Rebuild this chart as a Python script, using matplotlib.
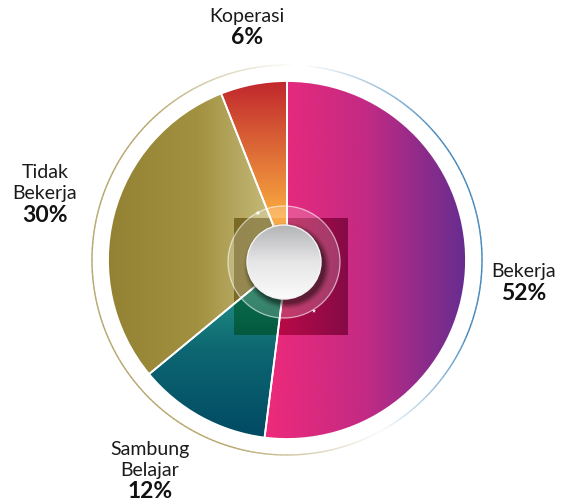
import numpy as np
import matplotlib.pyplot as plt
from matplotlib.patches import Circle
from matplotlib.collections import LineCollection
from matplotlib.colors import LinearSegmentedColormap, to_rgb

# slice data (clockwise from 12 o'clock)
labels = ['Bekerja', 'Sambung\nBelajar', 'Tidak\nBekerja', 'Koperasi']
values = [52, 12, 30, 6]

# gradient for each slice: direction + colour stops (left->right or bottom->top)
grads = [
    ('h', [(0, '#ee2a7b'), (0.5, '#c32a84'), (1, '#652d90')]),
    ('v', [(0, '#014a63'), (0.5, '#0d6772'), (1, '#2ca48d')]),
    ('h', [(0, '#938233'), (0.5, '#a19140'), (1, '#cec386')]),
    ('v', [(0, '#fbb040'), (0.25, '#f9a83f'), (0.6, '#de6d37'), (1, '#c1272d')]),
]
# darker tint of each slice inside the centre square
square_grads = [
    ('h', [(0, '#d6083f'), (0.5, '#b00a48'), (1, '#850a46')]),
    ('v', [(0, '#045a3e'), (0.5, '#0c7252'), (1, '#1c9670')]),
    ('h', [(0, '#7a6a24'), (0.5, '#7d6d27'), (1, '#85752e')]),
    ('v', [(0, '#f7941e'), (1, '#f7941e')]),
]

# position of the percentage line for each label (x, y from top), pixels
label_pos = [(524, 293), (150, 492), (45, 215), (247, 38)]

W, H = 571, 504
cx, cy = 287, H - 260
R = 179


def grad_image(d, cols, extent, clip, z):
    cmap = LinearSegmentedColormap.from_list('g', cols)
    g = np.linspace(0, 1, 256)
    arr = g[None, :] if d == 'h' else g[:, None]
    im = ax.imshow(arr, cmap=cmap, extent=extent, origin='lower', aspect='auto',
                   interpolation='bicubic', zorder=z)
    im.set_clip_path(clip)
    return im


fig = plt.figure(figsize=(W / 100, H / 100), dpi=100)
ax = fig.add_axes([0, 0, 1, 1])

wedges, _ = ax.pie(values, startangle=90, counterclock=False, center=(cx, cy), radius=R,
                   wedgeprops=dict(facecolor='none', edgecolor='white', linewidth=1.3, zorder=3))
ax.set_xlim(0, W)
ax.set_ylim(0, H)
ax.set_aspect('auto')
ax.axis('off')

# fill each wedge with a gradient, then the darker square patch in the centre
sq_ext = (234, 348, H - 335, H - 218)
for w, (d, cols), (d2, cols2) in zip(wedges, grads, square_grads):
    bb = w.get_path().get_extents()
    grad_image(d, cols, (bb.x0, bb.x1, bb.y0, bb.y1), w, 2)
    grad_image(d2, cols2, sq_ext, w, 2.5)

# thin outer ring, gold on the left, blue on the right, fading to white
t = np.linspace(0, 360, 1441)
tt = np.radians(t)
pts = np.column_stack([cx + 195 * np.cos(tt), cy + 195 * np.sin(tt)])
segs = np.stack([pts[:-1], pts[1:]], axis=1)
tm = (t[:-1] + t[1:]) / 2
gold = np.clip(np.minimum((tm - 88) / 45, (300 - tm) / 45), 0, 1)
tb = np.where(tm > 180, tm - 360, tm)
blue = np.clip(np.minimum((tb + 62) / 40, (85 - tb) / 45), 0, 1)
white = np.array([1, 1, 1.0])
c_gold = np.array(to_rgb('#a8954f'))
c_blue = np.array(to_rgb('#1c6fae'))
cols = white + gold[:, None] * (c_gold - white) + blue[:, None] * (c_blue - white)
ax.add_collection(LineCollection(segs, colors=np.clip(cols, 0, 1), linewidths=1.0, zorder=1))

# glass ring
gx, gy = 284, H - 262
ax.add_patch(Circle((gx, gy), 56, facecolor='white', alpha=0.2, edgecolor='none', zorder=5))
ax.add_patch(Circle((gx, gy), 56, facecolor='none', edgecolor='white', alpha=0.6, linewidth=0.9, zorder=5))

# soft shadow under the white disc
for k, a in zip(range(8, 0, -1), np.linspace(0.03, 0.12, 8)):
    ax.add_patch(Circle((gx + 3, gy - 4), 37 + k * 0.8, facecolor='black', alpha=a,
                        edgecolor='none', zorder=6))

disc = Circle((gx, gy), 37, facecolor='none', edgecolor='#f4f4f4', linewidth=1.0, zorder=8)
ax.add_patch(disc)
grad_image('v', [(0, '#fbfbfb'), (0.5, '#e6e6e7'), (1, '#b3b4b6')],
           (gx - 37, gx + 37, gy - 37, gy + 37), disc, 7)

# sparkles on the glass ring
ax.scatter([258, 314], [H - 213, H - 311], s=[16, 10], marker='*', color='white', zorder=9, linewidths=0)

# labels
for (lx, ly), lab, v in zip(label_pos, labels, values):
    lines = lab.split('\n')
    for i, s in enumerate(lines):
        yy = ly - 21.5 * (len(lines) - i)
        ax.text(lx, H - yy, s, ha='center', va='center', fontsize=14, family='Lato',
                color='#1a1a1a')
    ax.text(lx, H - ly, f'{v}%', ha='center', va='center', fontsize=16.5,
            family='Lato', fontweight='bold', color='#111111')

fig.savefig('out.png', dpi=100)
